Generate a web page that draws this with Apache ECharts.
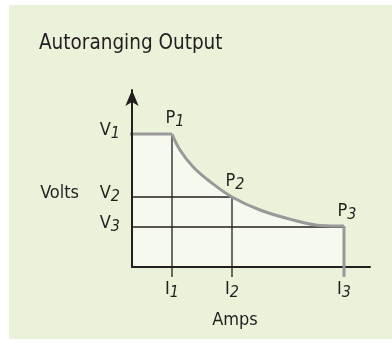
<!DOCTYPE html>
<html>
<head>
<meta charset="utf-8">
<title>Autoranging Output</title>
<script src="https://cdn.jsdelivr.net/npm/echarts@6/dist/echarts.min.js"></script>
<style>
    html, body { margin: 0; padding: 0; background: #ffffff; }
    #panel { position: absolute; left: 9px; top: 5px; width: 383px; height: 334px; background: #eaf2d9; }
    #main { position: absolute; left: 0; top: 0; width: 392px; height: 349px; }
</style>
</head>
<body>
<div id="panel"></div>
<div id="main"></div>
<script>
// operating points (I1..I3, V1..V3) and their subscripts
var currents = [1, 2.5, 5.3];
var voltages = [6.65, 3.5, 2.0];
var subs = ['1', '2', '3'];

// constant-power curve between P1 and P3
var curveX = [1, 1.2, 1.53, 1.95, 2.5, 3.2, 4.03, 4.7, 5.3];
var curveY = [6.65, 5.85, 5.0, 4.27, 3.5, 2.85, 2.35, 2.08, 2.05];

var axisNames = ['Amps', 'Volts'];

document.addEventListener('DOMContentLoaded', function () {
    var chartDom = document.getElementById('main');
    var myChart = echarts.init(chartDom);

    var font = "'DejaVu Sans Condensed', 'DejaVu Sans', sans-serif";
    var ink = '#231f20';
    var grey = '#999999';
    var fill = '#f5f9ee';

    // ticks poke out a little past the axes
    var tickLeft = -0.2;
    var tickLeftGrey = -0.25;
    var tickBottom = -0.5;

    // letter + lowered italic subscript (taller sub line lifts the letter a bit)
    var rich = {
        m: { fontFamily: font, fontSize: 18, lineHeight: 18, color: ink, verticalAlign: 'top' },
        s: { fontFamily: font, fontSize: 16, lineHeight: 26, fontStyle: 'italic', color: ink, verticalAlign: 'top', padding: [5, 0, 0, 0] }
    };

    function pairs(xs, ys) {
        var out = [];
        for (var i = 0; i < xs.length; i++) {
            out.push([xs[i], ys[i]]);
        }
        return out;
    }

    function subLabel(letter, values) {
        return function (v) {
            var idx = values.indexOf(v);
            return '{m|' + letter + '}{s|' + subs[idx] + '}';
        };
    }

    function thinLine(data) {
        return {
            type: 'line',
            data: data,
            symbol: 'none',
            clip: false,
            silent: true,
            lineStyle: { color: ink, width: 1.3 },
            z: 2
        };
    }

    var pPoints = pairs(currents, voltages).map(function (p, i) {
        return { value: p, name: subs[i] };
    });

    var option = {
        animation: false,
        title: {
            text: 'Autoranging Output',
            left: 34,
            top: 28,
            textStyle: { fontFamily: font, fontSize: 20.5, fontWeight: 'normal', color: ink }
        },
        grid: {
            left: 132,
            right: 22,
            top: 90,
            bottom: 82,
            containLabel: false,
            outerBoundsMode: 'none'
        },
        xAxis: {
            type: 'value',
            min: 0,
            max: 5.95,
            z: 3,
            name: axisNames[0],
            nameLocation: 'middle',
            nameGap: 44,
            nameTextStyle: { fontFamily: font, fontSize: 18, color: ink, padding: [0, 32, 0, 0] },
            axisLine: { lineStyle: { color: ink, width: 2 } },
            axisTick: { show: false },
            splitLine: { show: false },
            axisLabel: {
                customValues: currents,
                margin: 13,
                formatter: subLabel('I', currents),
                rich: rich
            }
        },
        yAxis: {
            type: 'value',
            min: 0,
            max: 8.85,
            z: 3,
            name: axisNames[1],
            nameLocation: 'middle',
            nameRotate: 0,
            nameGap: 53,
            nameTextStyle: { fontFamily: font, fontSize: 18, lineHeight: 30, color: ink, verticalAlign: 'top' },
            axisLine: {
                show: true,
                symbol: ['none', 'arrow'],
                symbolSize: [10, 16],
                lineStyle: { color: ink, width: 2 }
            },
            axisTick: { show: false },
            splitLine: { show: false },
            axisLabel: {
                customValues: voltages,
                margin: 12,
                formatter: subLabel('V', voltages),
                rich: rich
            }
        },
        series: [
            // light fill under the flat part of the curve
            {
                type: 'line',
                data: [[0, voltages[0]], [currents[0], voltages[0]]],
                symbol: 'none',
                silent: true,
                lineStyle: { width: 0 },
                areaStyle: { color: fill, opacity: 1 },
                z: 1
            },
            // light fill under the curve
            {
                type: 'line',
                data: pairs(curveX, curveY),
                smooth: 0.4,
                symbol: 'none',
                silent: true,
                lineStyle: { width: 0 },
                areaStyle: { color: fill, opacity: 1 },
                z: 1
            },
            // guide lines
            thinLine([[currents[0], voltages[0]], [currents[0], tickBottom]]),
            thinLine([[currents[1], voltages[1]], [currents[1], tickBottom]]),
            thinLine([[tickLeft, voltages[1]], [currents[1], voltages[1]]]),
            thinLine([[tickLeft, voltages[2]], [currents[2], voltages[2]]]),
            // output limit: flat, curve, drop
            {
                type: 'line',
                data: [[tickLeftGrey, voltages[0]], [currents[0], voltages[0]]],
                symbol: 'none',
                clip: false,
                silent: true,
                lineStyle: { color: grey, width: 3, cap: 'butt' },
                z: 2
            },
            {
                type: 'line',
                data: pairs(curveX, curveY),
                smooth: 0.4,
                symbol: 'none',
                clip: false,
                silent: true,
                lineStyle: { color: grey, width: 3 },
                z: 2
            },
            {
                type: 'line',
                data: [[currents[2], curveY[curveY.length - 1]], [currents[2], tickBottom]],
                symbol: 'none',
                clip: false,
                silent: true,
                lineStyle: { color: grey, width: 3, cap: 'butt' },
                z: 4
            },
            // P1..P3 labels
            {
                type: 'scatter',
                data: pPoints,
                symbolSize: 0,
                silent: true,
                itemStyle: { opacity: 1 },
                label: {
                    show: true,
                    position: 'top',
                    distance: -1,
                    offset: [3, 0],
                    formatter: function (p) { return '{m|P}{s|' + p.name + '}'; },
                    rich: rich
                },
                z: 5
            }
        ]
    };

    myChart.setOption(option);
});
</script>
</body>
</html>
